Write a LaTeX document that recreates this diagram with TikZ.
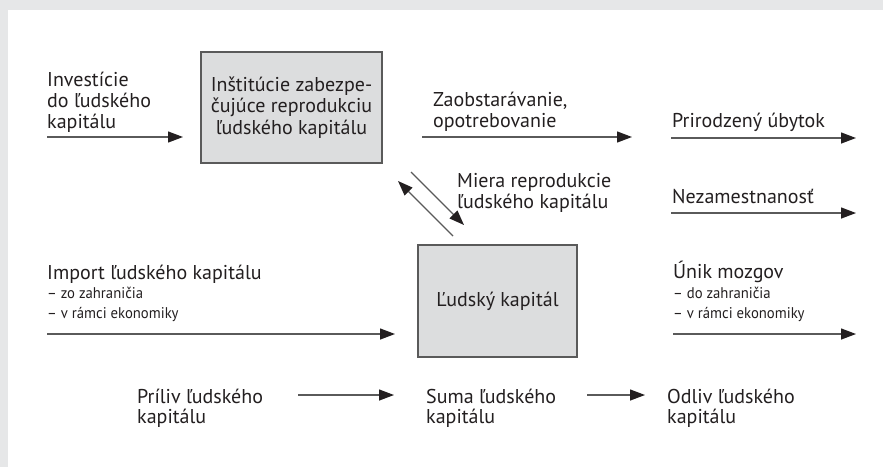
\documentclass[tikz,border=0pt]{standalone}
\usepackage{fontspec}
\setmainfont{PT Sans}
\newfontfamily\narrowfont[FakeStretch=0.95]{PT Sans}
\usetikzlibrary{arrows.meta}
\definecolor{framegray}{HTML}{E6E7E8}
\definecolor{boxfill}{HTML}{DCDDDE}
\definecolor{ink}{HTML}{231F20}
\definecolor{linegray}{HTML}{5A5A5A}
\begin{document}
\begin{tikzpicture}[x=1pt,y=-1pt,
  % multi-line labels are anchored at the baseline of their last line
  lbl/.style={anchor=base west,inner sep=0pt,align=left,text=ink,
    font=\fontsize{20}{21}\selectfont},
  lowlbl/.style={lbl,font=\fontsize{20}{20}\selectfont},
  sub/.style={anchor=base west,inner sep=0pt,align=left,text=ink,
    font=\narrowfont\fontsize{15.5}{20}\selectfont},
  stockbox/.style={draw=linegray,line width=1.1pt,fill=boxfill,inner sep=0pt,
    text=ink,align=center,font=\fontsize{20}{21.5}\selectfont},
  flow/.style={draw=linegray,line width=1.3pt,
    -{Triangle[length=15pt,width=11pt,color=ink]}}]
  % frame
  \fill[framegray] (0,0) rectangle (883,467);
  \fill[white] (8,10) rectangle (883,467);
  \useasboundingbox (0,0) rectangle (883,467);

  % boxes
  \node[stockbox,minimum width=181pt,minimum height=111pt] (inst) at (291.5,107.5)
    {Inštitúcie zabezpe-\\čujúce reprodukciu\\ľudského kapitálu};
  \node[stockbox,minimum width=159pt,minimum height=112pt] (kap) at (497.5,301)
    {Ľudský kapitál};

  % labels
  \node[lbl] (inv) at (47,128) {Investície\\do ľudského\\kapitálu};
  \node[lbl] (zao) at (433,127) {Zaobstarávanie,\\opotrebovanie};
  \node[lbl] (pri) at (672,127) {Prirodzený úbytok};
  \node[lbl] (nez) at (672,203) {Nezamestnanosť};
  \node[lbl] (mie) at (457,208) {Miera reprodukcie\\ľudského kapitálu};
  \node[lbl] (imp) at (47,279) {Import ľudského kapitálu};
  \node[sub] (impsub) at (47,318) {– zo zahraničia\\– v rámci ekonomiky};
  \node[lbl] (uni) at (673,278) {Únik mozgov};
  \node[sub] (unisub) at (673,318) {– do zahraničia\\– v rámci ekonomiky};
  \node[lowlbl] (pril) at (137,423) {Príliv ľudského\\kapitálu};
  \node[lowlbl] (suma) at (426,423) {Suma ľudského\\kapitálu};
  \node[lowlbl] (odl) at (667,423) {Odliv ľudského\\kapitálu};

  % arrow end points
  \coordinate (invA) at (47,137);  \coordinate (invB) at (183,137);
  \coordinate (zaoA) at (422,137); \coordinate (zaoB) at (632,137);
  \coordinate (priA) at (671,138); \coordinate (priB) at (856,138);
  \coordinate (nezA) at (671,213); \coordinate (nezB) at (856,213);
  \coordinate (impA) at (47,334);  \coordinate (impB) at (395,334);
  \coordinate (uniA) at (673,334); \coordinate (uniB) at (856,334);
  \coordinate (dnA) at (411,172);  \coordinate (dnB) at (464,225);
  \coordinate (upA) at (453,236);  \coordinate (upB) at (398,181);
  \coordinate (b1A) at (298,395);  \coordinate (b1B) at (394,395);
  \coordinate (b2A) at (587,395);  \coordinate (b2B) at (645,395);

  % flows
  \draw[flow] (invA) -- (invB);
  \draw[flow] (zaoA) -- (zaoB);
  \draw[flow] (priA) -- (priB);
  \draw[flow] (nezA) -- (nezB);
  \draw[flow] (impA) -- (impB);
  \draw[flow] (uniA) -- (uniB);
  \draw[flow] (dnA) -- (dnB);
  \draw[flow] (upA) -- (upB);
  \draw[flow] (b1A) -- (b1B);
  \draw[flow] (b2A) -- (b2B);
\end{tikzpicture}
\end{document}
